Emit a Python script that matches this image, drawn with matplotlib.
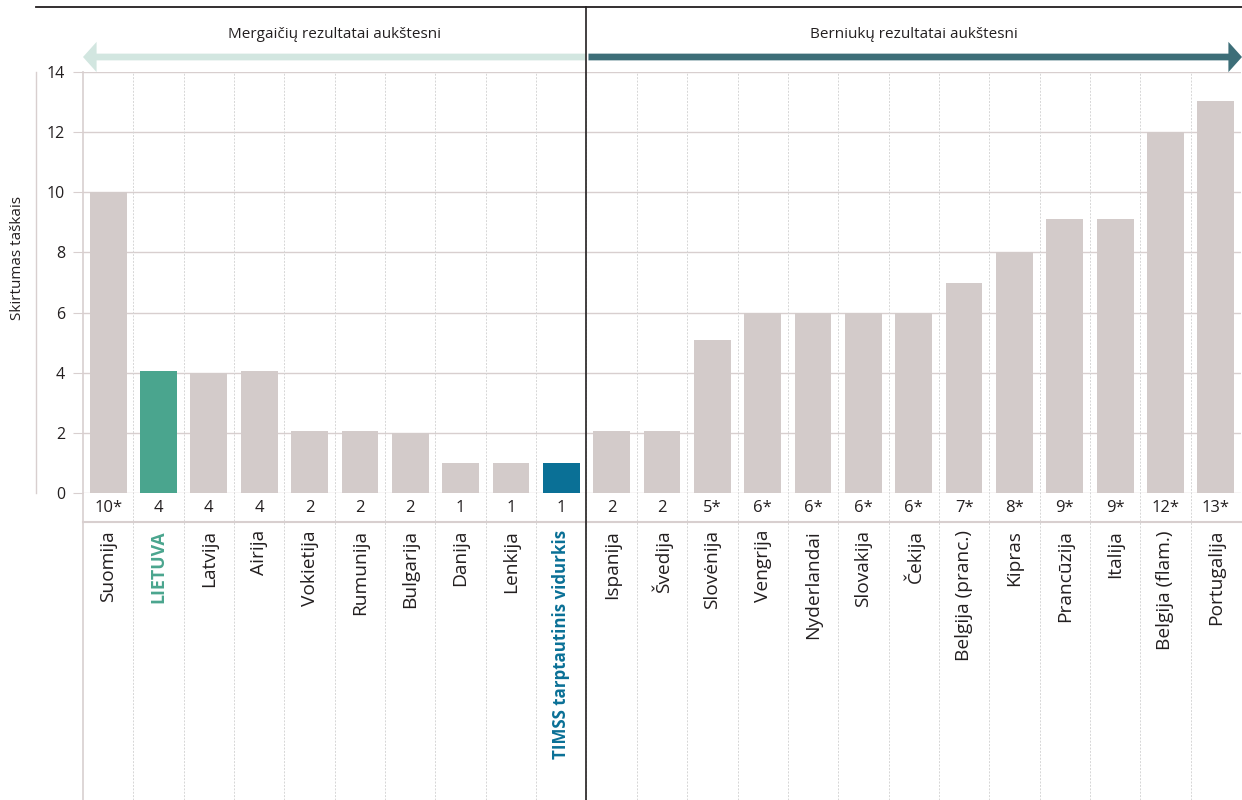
import matplotlib.pyplot as plt
from matplotlib.patches import FancyArrow
import numpy as np

plt.rcParams['font.family'] = ['Open Sans', 'DejaVu Sans']

# skirtumas tarp berniukų ir mergaičių rezultatų
salys = ['Suomija', 'LIETUVA', 'Latvija', 'Airija', 'Vokietija', 'Rumunija',
         'Bulgarija', 'Danija', 'Lenkija', 'TIMSS tarptautinis vidurkis',
         'Ispanija', 'Švedija', 'Slovėnija', 'Vengrija', 'Nyderlandai',
         'Slovakija', 'Čekija', 'Belgija (pranc.)', 'Kipras', 'Prancūzija',
         'Italija', 'Belgija (flam.)', 'Portugalija']
skirtumas = [10.0, 4.05, 4.0, 4.05, 2.05, 2.05, 2.0, 1.0, 1.0, 1.0,
             2.05, 2.05, 5.1, 6.0, 6.0, 6.0, 6.0, 7.0, 8.0, 9.1,
             9.1, 12.0, 13.05]
etiketes = ['10*', '4', '4', '4', '2', '2', '2', '1', '1', '1',
            '2', '2', '5*', '6*', '6*', '6*', '6*', '7*', '8*', '9*',
            '9*', '12*', '13*']

pilka = '#d3cbca'
zalia = '#4aa58e'
melyna = '#0a7096'
linija = '#d8cfcf'
tekstas = '#231f20'

spalvos = [pilka] * len(salys)
spalvos[1] = zalia
spalvos[9] = melyna

W, H = 1242, 800
fig = plt.figure(figsize=(W / 100, H / 100), dpi=100)
x0, x1, ytop, ybot = 83, 1241, 72, 493
ax = fig.add_axes([x0 / W, 1 - ybot / H, (x1 - x0) / W, (ybot - ytop) / H])

n = len(salys)
x = np.arange(n)
ax.set_xlim(-0.5, n - 0.5)
ax.set_ylim(0, 14)

# horizontalios tinklelio linijos
for v in range(0, 15, 2):
    ax.axhline(v, color=linija, lw=1, zorder=0)

ax.bar(x, skirtumas, width=0.73, color=spalvos, zorder=2)

for s in ['top', 'right', 'bottom', 'left']:
    ax.spines[s].set_visible(False)
ax.set_xticks([])
ax.set_yticks(range(0, 15, 2))
ax.tick_params(axis='y', length=7, color=linija, labelsize=11.5,
               labelcolor=tekstas, pad=6)

# kairė ašis su pavadinimu
fy = lambda py: (ybot - py) / (ybot - ytop)
fx = lambda px: (px - x0) / (x1 - x0)
ax.plot([fx(36), fx(36)], [0, 1], transform=ax.transAxes, color=linija,
        lw=1, clip_on=False)
ax.text(fx(18), fy(258), 'Skirtumas taškais', transform=ax.transAxes,
        rotation=90, ha='center', va='center', fontsize=11, color=tekstas)

trans = ax.get_xaxis_transform()

# stulpelių skirtukai
for b in np.arange(0.5, n - 0.5, 1):
    ax.plot([b, b], [fy(800), 1], transform=trans, color='#d6d6d6', lw=0.7,
            ls=(0, (2, 1.5)), clip_on=False, zorder=1)
ax.plot([-0.5, -0.5], [fy(800), 1], transform=trans, color=linija, lw=1.2,
        clip_on=False)
ax.plot([-0.5, n - 0.5], [fy(522), fy(522)], transform=trans, color=linija,
        lw=1.5, clip_on=False)

# reikšmės ir šalių pavadinimai
for i in range(n):
    ax.text(x[i], fy(508), etiketes[i], transform=trans, ha='center',
            va='center', fontsize=12, color=tekstas)
    spalva, svoris, dydis = tekstas, 'normal', 13.8
    if i == 1:
        spalva, svoris, dydis = zalia, 'bold', 12.8
    elif i == 9:
        spalva, svoris, dydis = melyna, 'bold', 12.2
    ax.text(x[i], fy(530), salys[i], transform=trans, rotation=90,
            ha='center', va='top', fontsize=dydis, color=spalva,
            fontweight=svoris)

# viršutinė linija ir vidurio skirtukas
ax.plot([fx(36), fx(1242)], [fy(7), fy(7)], transform=ax.transAxes,
        color=tekstas, lw=1.3, clip_on=False)
ax.plot([9.5, 9.5], [fy(800), fy(7)], transform=trans, color=tekstas,
        lw=1.2, clip_on=False, zorder=5)

# rodyklės
ya = fy(57)
px = n / (x1 - x0)  # duomenų vienetai viename pikselyje
ax.add_patch(FancyArrow(9.5 - 1 * px, ya, -10.0 + 1 * px, 0, width=0.016,
                        head_width=0.072, head_length=0.27,
                        length_includes_head=True, transform=trans,
                        color='#d2e6e0', clip_on=False, lw=0))
ax.add_patch(FancyArrow(9.5 + 2 * px, ya, (n - 0.5 + 1 * px) - (9.5 + 2 * px), 0,
                        width=0.016, head_width=0.072, head_length=0.27,
                        length_includes_head=True, transform=trans,
                        color='#3d6e78', clip_on=False, lw=0))
ax.text(4.5, fy(35), 'Mergaičių rezultatai aukštesni', transform=trans,
        ha='center', va='center', fontsize=11, color=tekstas)
ax.text(16, fy(35), 'Berniukų rezultatai aukštesni', transform=trans,
        ha='center', va='center', fontsize=11, color=tekstas)

fig.savefig('out.png', dpi=100)
